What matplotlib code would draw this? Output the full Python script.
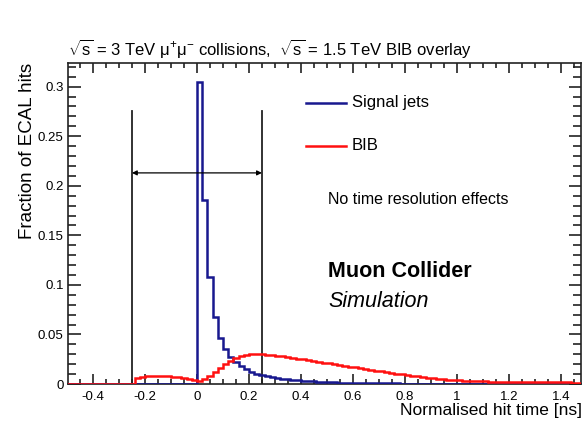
import numpy as np
import matplotlib
matplotlib.use("Agg")
import matplotlib.pyplot as plt
from matplotlib.ticker import MultipleLocator

plt.rcParams['font.family'] = ['Liberation Sans', 'DejaVu Sans']
plt.rcParams['mathtext.fontset'] = 'custom'
plt.rcParams['mathtext.rm'] = 'Liberation Sans'
plt.rcParams['mathtext.it'] = 'Liberation Sans:italic'

# histogram binning (ns)
bin_width = 0.02
x_lo, x_hi = -0.5, 1.5

# signal jets, bins starting at 0 ns
sig_start = 0.0
sig_vals = [0.305, 0.186, 0.108, 0.068, 0.046, 0.035, 0.027, 0.022, 0.018, 0.015,
            0.0125, 0.0105, 0.0090, 0.0078, 0.0068, 0.0060, 0.0053, 0.0047, 0.0042, 0.0037,
            0.0033, 0.0029, 0.0026, 0.0023, 0.0021, 0.0019, 0.0017, 0.0015, 0.0014, 0.0013,
            0.0012, 0.0011, 0.0010, 0.0009, 0.0008, 0.0008, 0.0007, 0.0006, 0.0006, 0.0005,
            0.0005, 0.0004, 0.0004, 0.0003, 0.0003, 0.0003, 0.0002, 0.0002, 0.0002, 0.0002,
            0.0001, 0.0001, 0.0001, 0.0001, 0.0001]

# BIB hits, bins starting at -0.24 ns
bib_start = -0.24
bib_vals = [0.0065, 0.0075, 0.0080, 0.0083, 0.0085, 0.0084, 0.0080, 0.0074, 0.0066, 0.0056,
            0.0046, 0.0036,
            0.0033, 0.0052, 0.0082, 0.0118, 0.0158, 0.0198, 0.0235, 0.0263, 0.0283, 0.0295,
            0.0301, 0.0302, 0.0300, 0.0297,
            0.0293, 0.0287, 0.0280, 0.0272, 0.0264, 0.0256, 0.0248, 0.0240, 0.0232, 0.0224,
            0.0216, 0.0208, 0.0200, 0.0192, 0.0184, 0.0176, 0.0168, 0.0160, 0.0152, 0.0144,
            0.0136, 0.0128, 0.0120, 0.0112, 0.0104, 0.0097, 0.0090, 0.0083, 0.0076, 0.0070,
            0.0064, 0.0058, 0.0053, 0.0048, 0.0044, 0.0040, 0.0037, 0.0034, 0.0031, 0.0029,
            0.0027, 0.0026, 0.0025, 0.0024, 0.0023, 0.0022, 0.0022, 0.0021, 0.0020, 0.0020,
            0.0019, 0.0019, 0.0018, 0.0018, 0.0017, 0.0017, 0.0016, 0.0016, 0.0015, 0.0015,
            0.0015]

# timing window
window = (-0.25, 0.25)
window_top = 0.275
arrow_y = 0.213

nbins = int(round((x_hi - x_lo) / bin_width))
edges = x_lo + bin_width * np.arange(nbins + 1)


def fill(start, vals):
    h = np.zeros(nbins)
    i0 = int(round((start - x_lo) / bin_width))
    n = min(len(vals), nbins - i0)
    h[i0:i0 + n] = vals[:n]
    return h


sig = fill(sig_start, sig_vals)
bib = fill(bib_start, bib_vals)

navy = '#18188f'
red = '#ff1010'

fig = plt.figure(figsize=(5.84, 4.22), dpi=100)
ax = fig.add_axes([0.116, 0.090, 0.879, 0.761])

ax.stairs(sig, edges, color=navy, lw=1.8, zorder=3)
ax.stairs(bib, edges, color=red, lw=1.8, zorder=4)

for xv in window:
    ax.plot([xv, xv], [0, window_top], color='#222222', lw=1.3, zorder=2)
ax.annotate('', xy=(window[0], arrow_y), xytext=(window[1], arrow_y),
            arrowprops=dict(arrowstyle='<|-|>', color='black', lw=0.9,
                            mutation_scale=7, shrinkA=0, shrinkB=0), zorder=5)

ax.set_xlim(-0.497, 1.478)
ax.set_ylim(0, 0.324)

ax.xaxis.set_major_locator(MultipleLocator(0.2))
ax.xaxis.set_minor_locator(MultipleLocator(0.05))
ax.yaxis.set_major_locator(MultipleLocator(0.05))
ax.yaxis.set_minor_locator(MultipleLocator(0.01))
ax.xaxis.set_major_formatter(plt.FuncFormatter(lambda v, p: f'{v:g}'))
ax.yaxis.set_major_formatter(plt.FuncFormatter(lambda v, p: f'{v:g}'))

ax.tick_params(which='both', direction='in', top=True, right=True,
               labelsize=9.5, width=1.2, color='#222222')
ax.tick_params(axis='x', which='major', length=7, pad=5)
ax.tick_params(axis='x', which='minor', length=3.5)
ax.tick_params(axis='y', which='major', length=9, pad=3)
ax.tick_params(axis='y', which='minor', length=5.5)
for s in ax.spines.values():
    s.set_linewidth(1.2)
    s.set_color('#222222')

ax.set_ylabel('Fraction of ECAL hits', fontsize=13.5, loc='top', labelpad=1)
fig.text(582 / 584, 1 - 410 / 422, 'Normalised hit time [ns]', fontsize=12.5,
         ha='right', va='center')

fig.text(68 / 584, 1 - 48 / 422,
         r'$\sqrt{\mathrm{s}}$ = 3 TeV μ$^{+}$μ$^{-}$ collisions,  $\sqrt{\mathrm{s}}$ = 1.5 TeV BIB overlay',
         fontsize=12, ha='left', va='center')

# legend drawn by hand in axes coordinates
tr = ax.transAxes
def fx(px):
    return (px - 68) / (581 - 68)
def fy(py):
    return (384 - py) / (384 - 63)

ax.plot([fx(306), fx(346)], [fy(103), fy(103)], color=navy, lw=1.8, transform=tr)
ax.text(fx(352), fy(103), 'Signal jets', transform=tr, fontsize=12, va='center')
ax.plot([fx(306), fx(346)], [fy(146), fy(146)], color=red, lw=1.8, transform=tr)
ax.text(fx(352), fy(146), 'BIB', transform=tr, fontsize=12, va='center')

ax.text(fx(328), fy(200), 'No time resolution effects', transform=tr,
        fontsize=11.5, va='center')
ax.text(fx(328), fy(272), 'Muon Collider', transform=tr, fontsize=15.5,
        fontweight='bold', va='center')
ax.text(fx(328), fy(302), 'Simulation', transform=tr, fontsize=15.5,
        style='italic', va='center')

fig.savefig('out.png', dpi=100)
